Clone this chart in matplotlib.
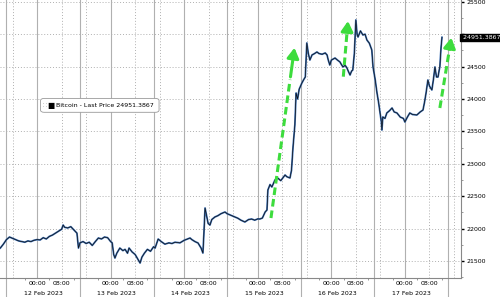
import matplotlib.pyplot as plt
from matplotlib.patches import FancyBboxPatch
from matplotlib.transforms import blended_transform_factory

# hours since 12 Feb 2023 00:00
hours = [-12, -11, -10, -9, -8, -7, -6, -5, -4, -3, -2, -1, 0, 1, 2, 3, 4, 5, 6, 7,
         8, 8.5, 9, 10, 11, 12, 13, 13.5, 14, 15, 16, 17, 18, 19, 20, 21, 22, 23, 24,
         24.5, 25, 25.4, 26, 27, 28, 28.7, 29.5, 30, 31, 32, 33, 33.6, 34.2, 35, 36,
         37, 38, 38.5, 39.5, 40.5, 41.7, 43, 44, 45, 46.6, 48, 49.9, 50.5, 51.5, 52.5,
         53.5, 54.1, 54.4, 54.8, 55.3, 55.8, 56.4, 57, 58, 59, 60, 61.3, 62, 63, 64.6,
         65.5, 66.5, 67.8, 69, 70, 71, 72, 72.7, 73.5, 74.4, 75, 75.3, 76, 76.6, 77.6,
         78.5, 79.5, 80.9, 81.5, 82.5, 83, 83.5, 84.1, 84.5, 85, 85.5, 86.4, 87, 87.5,
         88, 88.5, 89, 89.7, 90.5, 91.3, 92, 93, 94, 94.6, 95, 95.5, 96, 97.2, 98, 98.8,
         99.3, 99.8, 100.5, 101.1, 101.6, 102.1, 102.6, 103, 103.5, 104, 104.4, 104.7,
         105.5, 106.3, 107, 107.6, 108.4, 109.2, 109.6, 110.3, 110.9, 111.4, 111.9,
         112.3, 112.5, 112.8, 113.5, 114.1, 115, 115.8, 116.5, 117.4, 118.5, 119.5, 120,
         120.8, 121.6, 122.5, 123.9, 125, 125.9, 126.4, 126.9, 127.5, 128, 128.8, 129.3,
         129.8, 130.3, 130.8, 131.2, 131.4, 131.8, 132.1]
price = [21700, 21760, 21830, 21870, 21850, 21830, 21810, 21800, 21790, 21810, 21800,
         21820, 21830, 21825, 21860, 21840, 21880, 21900, 21930, 21960, 21990, 22055,
         22020, 22010, 22030, 21980, 21930, 21700, 21780, 21800, 21770, 21790, 21740,
         21800, 21855, 21840, 21870, 21860, 21800,
         21780, 21600, 21546, 21620, 21700, 21660, 21680, 21620, 21700, 21640, 21600,
         21520, 21469, 21560, 21620, 21680, 21650, 21720, 21700, 21839, 21800, 21760,
         21780, 21770, 21790, 21780, 21820, 21855, 21830, 21800, 21778, 21700, 21623,
         21900, 22318, 22200, 22080, 22055, 22140, 22179, 22200, 22230, 22256, 22230,
         22210, 22179, 22160, 22130, 22102, 22140, 22148, 22130, 22150, 22148, 22163,
         22256, 22287, 22596, 22680, 22642, 22750, 22780, 22740, 22827, 22800, 22781,
         22900, 23259, 23600, 24092, 24000, 24150, 24247, 24300, 24339, 24864, 24700,
         24601, 24679, 24700, 24725, 24700, 24690, 24710, 24679, 24600, 24524, 24600,
         24632, 24600, 24571, 24530, 24494, 24520, 24478, 24420, 24370, 24430, 24447,
         24700, 25219, 25000, 24956, 25050, 24987, 25000, 24910, 24860, 24756, 24494,
         24300, 24092, 23950, 23784, 23650, 23521, 23722, 23700, 23784, 23820, 23861,
         23800, 23784, 23720, 23700, 23645, 23720, 23784, 23760, 23753, 23800, 23830,
         23950, 24092, 24293, 24200, 24139, 24300, 24494, 24339, 24339, 24450, 24494,
         24800, 24951.3867]

last_price = 24951.3867
days = ['12 Feb 2023', '13 Feb 2023', '14 Feb 2023', '15 Feb 2023', '16 Feb 2023', '17 Feb 2023']
yticks = [21500, 22000, 22500, 23000, 23500, 24000, 24500, 25000, 25500]

# green arrows (tail hour, tail price, tip hour, tip price)
arrows = [(76.3, 22163, 84.1, 24833),
          (99.9, 24344, 101.5, 25245),
          (131.4, 23861, 135.3, 24987)]

fig = plt.figure(figsize=(5, 2.97), dpi=100)
ax = fig.add_axes([0, 0.064, 0.922, 0.936])

grid_c = '#b0b0b0'
for d in range(-1, 6):
    base = d * 24
    if d >= 0:
        ax.axvline(base, color=grid_c, lw=0.8, zorder=0)
    ax.axvline(base + 8, color=grid_c, lw=0.7, ls=(0, (1, 2)), zorder=0)
    ax.axvline(base + 16, color=grid_c, lw=0.7, ls=(0, (1, 2)), zorder=0)
    ax.axvline(base + 14, ymin=-0.07, ymax=1, color=grid_c, lw=0.8, zorder=0, clip_on=False)

for t in yticks:
    ax.axhline(t, color=grid_c, lw=0.7, ls=(0, (1, 2)), zorder=0)

ax.plot(hours, price, color='#3b6fb5', lw=1.3, zorder=2)
ax.plot(hours, price, color='#111111', lw=0.5, zorder=3)

for h0, p0, h1, p1 in arrows:
    f = 0.8
    hb = h0 + (h1 - h0) * f
    pb = p0 + (p1 - p0) * f
    ax.plot([h0, hb], [p0, pb], color='#3ddc3d', lw=2.2, dashes=(2.5, 1.3),
            solid_capstyle='butt', zorder=4)
    ax.annotate('', xy=(h1, p1), xytext=(hb, pb),
                arrowprops=dict(arrowstyle='-|>,head_length=0.6,head_width=0.35',
                                color='#3ddc3d', lw=2.2), zorder=4)

for s in ['top', 'left']:
    ax.spines[s].set_visible(False)
for s in ['right', 'bottom']:
    ax.spines[s].set_color('#888888')
    ax.spines[s].set_linewidth(0.8)

ax.yaxis.tick_right()
ax.set_yticks(yticks)
ax.set_yticklabels(['' if t == 25000 else str(t) for t in yticks])
ax.set_yticks([t + 250 for t in yticks[:-1]] + [21250], minor=True)
ax.tick_params(axis='y', which='major', direction='out', length=2.5, width=1,
               color='black', labelsize=4.5, pad=1.5)
ax.tick_params(axis='y', which='minor', direction='out', length=1.5, width=0.6, color='#888888')

xt = []
xl = []
for d in range(6):
    xt += [d * 24, d * 24 + 8]
    xl += ['00:00', '08:00']
ax.set_xticks(xt)
ax.set_xticklabels(xl)
ax.set_xticks([d * 24 + o for d in range(6) for o in (4, 12, 20)] + [-4], minor=True)
ax.tick_params(axis='x', which='major', length=0, labelsize=4.5, pad=2.5)
ax.tick_params(axis='x', which='minor', direction='out', length=1.5, width=0.6, color='#888888')

ax.set_xlim(-12.1, 138.3)
ax.set_ylim(21238, 25527)

tr = blended_transform_factory(ax.transData, ax.transAxes)
for d, lab in enumerate(days):
    ax.text(d * 24 + 2, -0.054, lab, transform=tr, ha='center', va='center', fontsize=4.5)

ax.text(1.0, last_price, ' 24951.3867', transform=blended_transform_factory(ax.transAxes, ax.transData),
        ha='left', va='center', fontsize=4.5, color='white',
        bbox=dict(boxstyle='square,pad=0.15', fc='black', ec='black'), clip_on=False)

# legend box
ax.add_patch(FancyBboxPatch((0.088, 0.596), 0.257, 0.05, transform=ax.transAxes,
                            boxstyle='round,pad=0,rounding_size=0.008',
                            fc='white', ec='#999999', lw=0.6, zorder=5))
ax.text(0.093, 0.621, '\u2237', transform=ax.transAxes, fontsize=4.5, color='#aaaaaa',
        va='center', ha='left', zorder=6)
ax.text(0.103, 0.621, '\u25a0', transform=ax.transAxes, fontsize=5.5, color='black',
        va='center', ha='left', zorder=6)
ax.text(0.121, 0.621, 'Bitcoin - Last Price 24951.3867', transform=ax.transAxes,
        fontsize=4.5, color='black', va='center', ha='left', zorder=6)

fig.savefig('out.png', dpi=100)
